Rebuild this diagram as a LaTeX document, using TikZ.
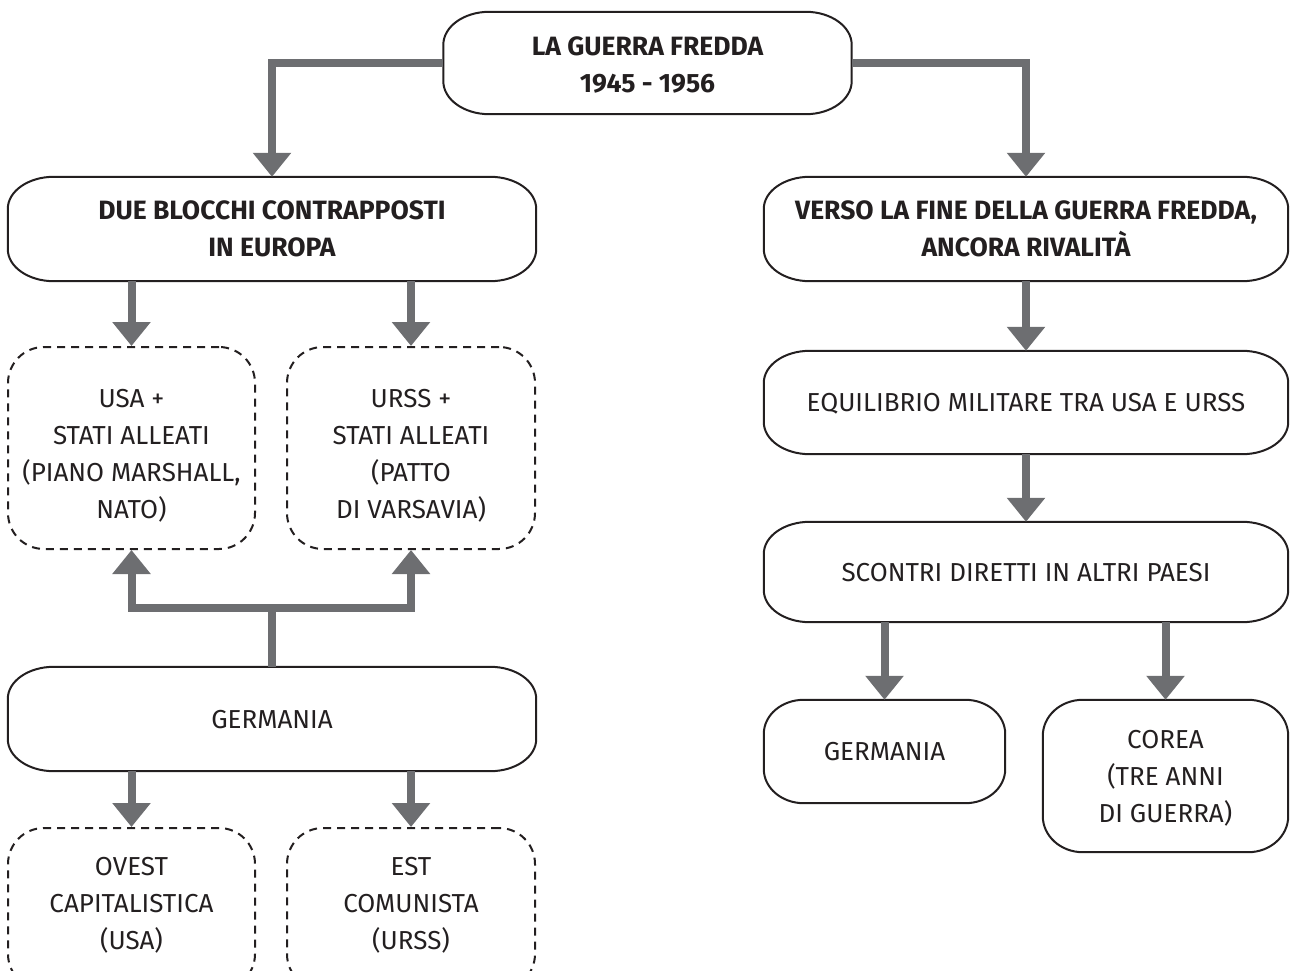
\documentclass[tikz,border=0pt]{standalone}
\usepackage{fontspec}
\setmainfont{Fira Sans}
\usetikzlibrary{arrows.meta,calc}
\definecolor{conngray}{HTML}{6D6E71}
\definecolor{ink}{HTML}{231F20}
\tikzset{
  basebox/.style={align=center, text=ink, inner sep=0pt, font=\fontsize{26}{37}\selectfont},
  plainbox/.style={basebox},
  dashbox/.style={basebox, draw=ink, line width=2pt, dash pattern=on 8pt off 6pt, rounded corners=36pt},
  headbox/.style={plainbox, font=\fontsize{26.5}{37}\selectfont\bfseries},
  boxline/.style={draw=ink, line width=2pt, line join=round},
  txt/.style n args={2}{text height=#1, text depth=#2},
  conn/.style={draw=conngray, line width=8pt},
  arr/.style={conn, -{Triangle[width=37pt,length=24pt]}},
}
\newcommand\drawebox[3]{%
  \draw[boxline] ($(#1.north west)+(#2,0pt)$) -- ($(#1.north east)+(-#2,0pt)$)
    .. controls +(0.552*#2,0pt) and +(0pt,0.552*#3) .. ($(#1.north east)+(0pt,-#3)$)
    -- ($(#1.south east)+(0pt,#3)$)
    .. controls +(0pt,-0.552*#3) and +(0.552*#2,0pt) .. ($(#1.south east)+(-#2,0pt)$)
    -- ($(#1.south west)+(#2,0pt)$)
    .. controls +(-0.552*#2,0pt) and +(0pt,-0.552*#3) .. ($(#1.south west)+(0pt,#3)$)
    -- ($(#1.north west)+(0pt,-#3)$)
    .. controls +(0pt,0.552*#3) and +(-0.552*#2,0pt) .. ($(#1.north west)+(#2,0pt)$)
    -- cycle;}
\begin{document}
\begin{tikzpicture}[x=1pt,y=-1pt]
\useasboundingbox (0,0) rectangle (1293,971);
\node[headbox, txt={60pt}{0pt}, minimum width=408pt, minimum height=102pt] (top) at (647.5,63) {LA GUERRA FREDDA\\1945 - 1956};
\node[headbox, txt={55pt}{0pt}, minimum width=528pt, minimum height=104pt] (due) at (272,229) {DUE BLOCCHI CONTRAPPOSTI\\IN EUROPA};
\node[headbox, txt={55pt}{0pt}, minimum width=524pt, minimum height=104pt] (verso) at (1026,229) {VERSO LA FINE DELLA GUERRA FREDDA,\\ANCORA RIVALITÀ};
\node[dashbox, txt={141pt}{0pt}, minimum width=247pt, minimum height=202pt] (usa) at (131.5,448) {USA +\\STATI ALLEATI\\(PIANO MARSHALL,\\NATO)};
\node[dashbox, txt={141pt}{0pt}, minimum width=248pt, minimum height=202pt] (urss) at (411,448) {URSS +\\STATI ALLEATI\\(PATTO\\DI VARSAVIA)};
\node[plainbox, txt={18pt}{0pt}, minimum width=528pt, minimum height=104pt] (germ1) at (272,719) {GERMANIA};
\node[dashbox, txt={92pt}{12pt}, minimum width=247pt, minimum height=162pt] (ovest) at (131.5,909) {OVEST\\CAPITALISTICA\\(USA)};
\node[dashbox, txt={92pt}{12pt}, minimum width=248pt, minimum height=162pt] (est) at (411,909) {EST\\COMUNISTA\\(URSS)};
\node[plainbox, txt={18pt}{0pt}, minimum width=524pt, minimum height=103pt] (eq) at (1026,402.5) {EQUILIBRIO MILITARE TRA USA E URSS};
\node[plainbox, txt={18pt}{0pt}, minimum width=524pt, minimum height=100pt] (sc) at (1026,572) {SCONTRI DIRETTI IN ALTRI PAESI};
\node[plainbox, txt={18pt}{0pt}, minimum width=241pt, minimum height=103pt] (germ2) at (884.5,751.5) {GERMANIA};
\node[plainbox, txt={92pt}{0pt}, minimum width=245pt, minimum height=152pt] (corea) at (1165.5,776) {COREA\\(TRE ANNI\\DI GUERRA)};
\drawebox{top}{46pt}{33pt}
\drawebox{due}{46pt}{32pt}
\drawebox{verso}{46pt}{32pt}
\drawebox{germ1}{46pt}{32pt}
\drawebox{eq}{46pt}{32pt}
\drawebox{sc}{46pt}{32pt}
\drawebox{germ2}{40pt}{34pt}
\drawebox{corea}{40pt}{36pt}
\coordinate (j) at (272,608);
\draw[arr] (top.west) -| (due.north);
\draw[arr] (top.east) -| (verso.north);
\draw[arr] (usa.north |- due.south) -- (usa.north);
\draw[arr] (urss.north |- due.south) -- (urss.north);
\draw[conn] (germ1.north) -- (j);
\draw[arr] (j) -| (usa.south);
\draw[arr] (j) -| (urss.south);
\draw[arr] (ovest.north |- germ1.south) -- (ovest.north);
\draw[arr] (est.north |- germ1.south) -- (est.north);
\draw[arr] (verso.south) -- (eq.north);
\draw[arr] (eq.south) -- (sc.north);
\draw[arr] (germ2.north |- sc.south) -- (germ2.north);
\draw[arr] (corea.north |- sc.south) -- (corea.north);
\end{tikzpicture}
\end{document}
